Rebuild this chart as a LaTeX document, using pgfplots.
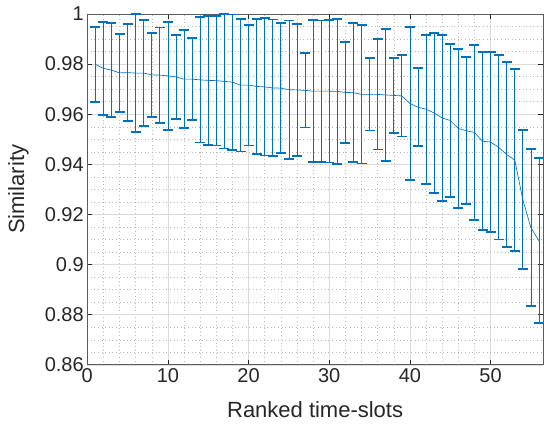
\documentclass[border=0pt]{standalone}
\usepackage{pgfplots}
\pgfplotsset{compat=1.18}
\usepackage{pgfplotstable}
\usepackage{fontspec}
\setmainfont{Liberation Sans}
\definecolor{mblue}{rgb}{0,0.447,0.741}
\definecolor{axgray}{gray}{0.15}
\pgfplotstableread{
x y e
1 0.9799 0.0149
2 0.9783 0.0186
3 0.9776 0.0188
4 0.9765 0.0155
5 0.9766 0.0194
6 0.9764 0.0236
7 0.9764 0.0212
8 0.9757 0.0167
9 0.9756 0.0190
10 0.9753 0.0216
11 0.9749 0.0168
12 0.9740 0.0195
13 0.9740 0.0163
14 0.9737 0.0250
15 0.9735 0.0257
16 0.9734 0.0259
17 0.9731 0.0268
18 0.9728 0.0270
19 0.9716 0.0265
20 0.9716 0.0241
21 0.9711 0.0269
22 0.9709 0.0274
23 0.9705 0.0273
24 0.9704 0.0260
25 0.9698 0.0276
26 0.9697 0.0263
27 0.9695 0.0148
28 0.9692 0.0284
29 0.9692 0.0282
30 0.9692 0.0285
31 0.9691 0.0289
32 0.9687 0.0202
33 0.9686 0.0278
34 0.9679 0.0276
35 0.9679 0.0144
36 0.9679 0.0220
37 0.9677 0.0263
38 0.9675 0.0150
39 0.9673 0.0162
40 0.9643 0.0305
41 0.9628 0.0156
42 0.9620 0.0297
43 0.9605 0.0320
44 0.9585 0.0330
45 0.9575 0.0304
46 0.9543 0.0318
47 0.9534 0.0293
48 0.9527 0.0350
49 0.9492 0.0355
50 0.9489 0.0360
51 0.9468 0.0368
52 0.9439 0.0370
53 0.9417 0.0364
54 0.9259 0.0277
55 0.9147 0.0313
56 0.9095 0.0329
}\datatable
\begin{document}
\begin{tikzpicture}
\begin{axis}[
  scale only axis, width=456pt, height=351pt,
  xmin=0, xmax=56.5, ymin=0.86, ymax=1,
  xtick={0,10,20,30,40,50},
  ytick={0.86,0.88,0.9,0.92,0.94,0.96,0.98,1},
  minor x tick num=4, minor y tick num=3,
  grid=both,
  major grid style={color=black!14, line width=0.5pt},
  minor grid style={color=black!28, dash pattern=on 0.6pt off 3pt, line width=0.45pt},
  tick align=inside, major tick length=5pt, minor tick length=0pt,
  axis line style={color=axgray!75, line width=0.7pt},
  tick style={color=axgray, line width=0.7pt},
  every tick label/.append style={font=\fontsize{20}{24}\selectfont, color=axgray},
  /pgf/number format/assume math mode=true,
  xlabel={Ranked time-slots}, ylabel={Similarity},
  label style={font=\fontsize{22}{26}\selectfont, color=axgray},
  xlabel style={at={(axis description cs:0.5,-0.128)}, anchor=center},
  ylabel style={at={(axis description cs:-0.151,0.5)}, anchor=center},
]
\addplot[color=mblue, line width=0.65pt, mark=none,
  error bars/.cd, y dir=both, y explicit,
  error bar style={line width=0.8pt, color=mblue},
  error mark options={line width=1.8pt, mark size=5pt, color=mblue, rotate=90}]
  table[x=x, y=y, y error=e] {\datatable};
\end{axis}
\pgfresetboundingbox
\path (current axis.south west) ++(-87.3pt,-65pt) coordinate (bl);
\path (current axis.north east) ++(1pt,14pt) coordinate (tr);
\path[use as bounding box] (bl) rectangle (tr);
\end{tikzpicture}
\end{document}
